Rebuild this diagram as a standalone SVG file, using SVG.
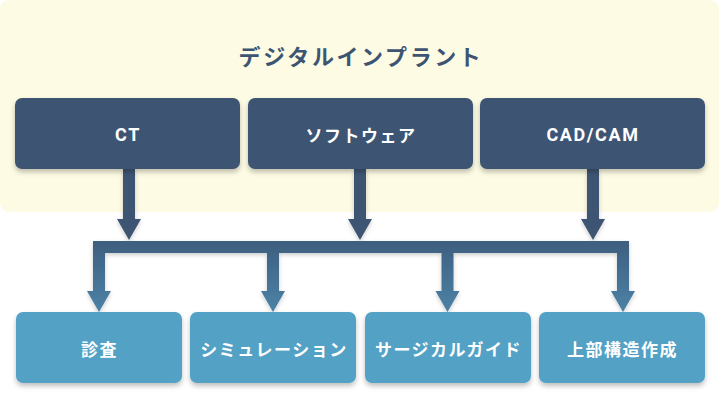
<svg xmlns="http://www.w3.org/2000/svg" width="720" height="414" viewBox="0 0 720 414">
<style>
.lbl{font-family:"Noto Sans CJK JP","Noto Sans",sans-serif;font-weight:700;fill:#ffffff;font-size:17px;letter-spacing:1.5px;text-anchor:middle;dominant-baseline:central}
.lat{font-family:"Roboto","Noto Sans",sans-serif;font-size:18px;letter-spacing:1.6px}
.title{font-family:"Noto Sans CJK JP","Noto Sans",sans-serif;font-weight:700;fill:#3d5573;font-size:22px;letter-spacing:2.6px;text-anchor:middle;dominant-baseline:central}
.top{fill:#3d5573;filter:url(#sh)}
.bot{fill:#53a1c4;filter:url(#sh)}
.dark{fill:#3d5573}
.br{fill:url(#g)}
</style>
<defs>
<filter id="sh" x="-10%" y="-20%" width="120%" height="150%">
<feDropShadow dx="0" dy="3" stdDeviation="2.5" flood-color="#000" flood-opacity="0.25"/>
</filter>
<filter id="sh2" x="-10%" y="-20%" width="120%" height="150%">
<feDropShadow dx="0" dy="2" stdDeviation="2" flood-color="#000" flood-opacity="0.2"/>
</filter>
<linearGradient id="g" gradientUnits="userSpaceOnUse" x1="0" y1="240" x2="0" y2="312">
<stop offset="0" stop-color="#3e5e7f"/>
<stop offset="1" stop-color="#4b82a6"/>
</linearGradient>
</defs>
<rect x="0" y="0" width="719" height="212" rx="9" fill="#fdfbe3"/>
<text class="title" x="361" y="55">デジタルインプラント</text>
<g id="connectors" filter="url(#sh2)">
<path class="dark" d="M123,169 H135 V219 H141 L129,240 L117,219 H123 Z"/>
<path class="dark" d="M354,169 H366 V219 H372 L360,240 L348,219 H354 Z"/>
<path class="dark" d="M587,169 H599 V219 H605 L593,240 L581,219 H587 Z"/>
<path class="br" d="M93,241 H629 V291 H635 L623,312 L611,291 H617 V253 H453.5 V291 H459.5 L447.5,312 L435.5,291 H441.5 V253 H279 V291 H285 L273,312 L261,291 H267 V253 H105 V291 H111 L99,312 L87,291 H93 Z"/>
</g>
<g id="ct"><rect class="top" x="15" y="98" width="225" height="71" rx="7"/><text class="lbl lat" x="128" y="134">CT</text></g>
<g id="software"><rect class="top" x="248" y="98" width="225" height="71" rx="7"/><text class="lbl" x="361" y="134">ソフトウェア</text></g>
<g id="cadcam"><rect class="top" x="480" y="98" width="225" height="71" rx="7"/><text class="lbl lat" x="593" y="134">CAD/CAM</text></g>
<g id="shinsa"><rect class="bot" x="16" y="312" width="166" height="71" rx="7"/><text class="lbl" x="99.5" y="348">診査</text></g>
<g id="simulation"><rect class="bot" x="190" y="312" width="166" height="71" rx="7"/><text class="lbl" x="274" y="348">シミュレーション</text></g>
<g id="guide"><rect class="bot" x="365" y="312" width="166" height="71" rx="7"/><text class="lbl" x="448.5" y="348">サージカルガイド</text></g>
<g id="jobu"><rect class="bot" x="539" y="312" width="166" height="71" rx="7"/><text class="lbl" x="622.5" y="348">上部構造作成</text></g>
</svg>
